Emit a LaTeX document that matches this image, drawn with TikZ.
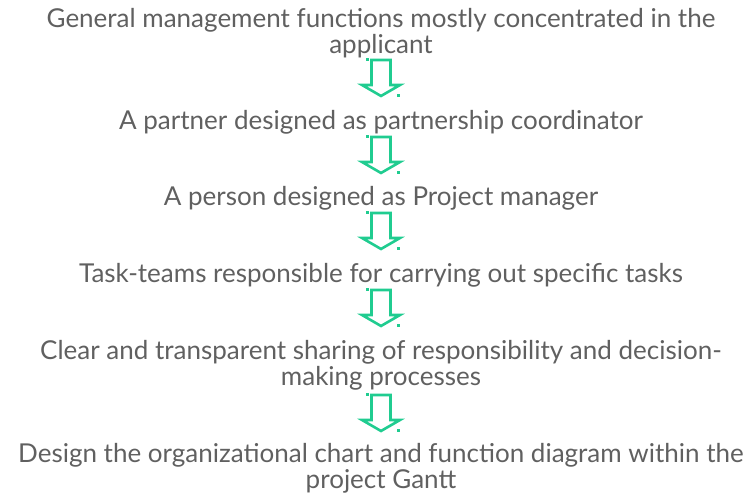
\documentclass[tikz,border=0pt]{standalone}
\usepackage{fontspec}
\setmainfont{Lato}
\definecolor{txtgrey}{RGB}{96,96,96}
\definecolor{arrgreen}{RGB}{32,204,144}
\tikzset{
  lbl/.style={align=center, text=txtgrey, font=\fontsize{26}{26}\selectfont, inner sep=0pt},
  arrowline/.style={draw=arrgreen, line width=2.6pt, line join=miter},
  handle/.style={fill=arrgreen, minimum size=3pt, inner sep=0pt}
}
\begin{document}
\begin{tikzpicture}[x=1pt,y=-1pt]
\useasboundingbox (0,0) rectangle (753,494);
\node[lbl] (t1) at (381,33) {General management functions mostly concentrated in the\\applicant};
\node[lbl] (t2) at (381,122) {A partner designed as partnership coordinator};
\node[lbl] (t3) at (381,198) {A person designed as Project manager};
\node[lbl] (t4) at (381,275) {Task-teams responsible for carrying out specific tasks};
\node[lbl] (t5) at (381,365) {Clear and transparent sharing of responsibility and decision-\\making processes};
\node[lbl] (t6) at (381,468) {Design the organizational chart and function diagram within the\\project Gantt};
\foreach \i/\y in {1/60,2/137,3/213,4/290,5/395}{
  \coordinate (a\i) at (381,\y);
  \draw[arrowline] ([shift={(-9.5,0)}]a\i) -- ++(19,0) -- ++(0,25) -- ++(9.5,0) -- ++(-19,11)
     -- ++(-19,-11) -- ++(9.5,0) -- cycle;
  \node[handle] at ([shift={(-14,0)}]a\i) {};
  \node[handle] at ([shift={(17,36)}]a\i) {};
}
\end{tikzpicture}
\end{document}
